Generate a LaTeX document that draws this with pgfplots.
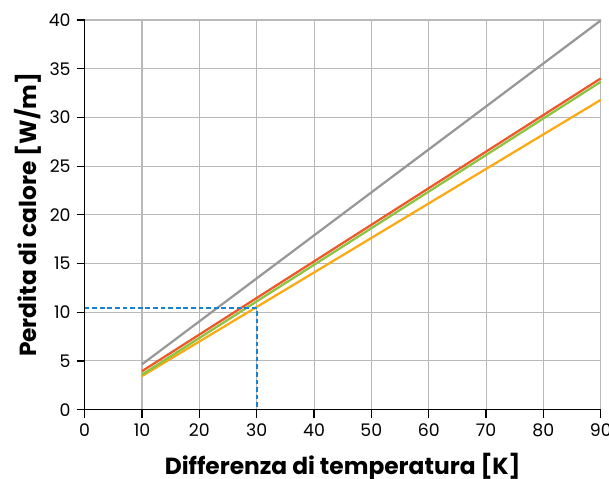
\documentclass[border=0pt]{standalone}
\usepackage{pgfplots}
\pgfplotsset{compat=1.18}
\usepackage{fontspec}
\setmainfont{Poppins}
\definecolor{cgray}{RGB}{152,152,152}
\definecolor{cred}{RGB}{236,88,42}
\definecolor{cgreen}{RGB}{140,196,64}
\definecolor{corange}{RGB}{252,170,20}
\definecolor{cblue}{RGB}{26,128,208}
\definecolor{cgrid}{RGB}{185,185,185}
\begin{document}
\begin{tikzpicture}
\begin{axis}[
  name=ax,
  scale only axis,
  width=387pt, height=292.2pt,
  xmin=0, xmax=90, ymin=0, ymax=40,
  xtick={0,10,...,90}, ytick={0,5,...,40},
  axis x line*=bottom, axis y line*=left,
  axis line style={black, line width=0.9pt},
  tick align=outside,
  major tick length=6pt,
  tick style={black, line width=0.9pt},
  grid=major,
  grid style={cgrid, line width=0.8pt},
  /pgf/number format/assume math mode=true,
  ticklabel style={font=\fontsize{13}{15}\selectfont},
  xticklabel style={yshift=-1pt},
  yticklabel style={xshift=-1pt},
  xlabel={\textbf{Differenza di temperatura [K]}},
  ylabel={\textbf{Perdita di calore [W/m]}},
  label style={font=\fontsize{17.5}{20}\selectfont},
  xlabel style={at={(axis description cs:0.5,-0.146)}, anchor=center},
  ylabel style={at={(axis description cs:-0.11,0.5)}, anchor=center, rotate=0},
  clip=false,
]
\addplot[cgray, line width=1.7pt] coordinates {(10,4.65) (90,39.95)};
\addplot[corange, line width=1.7pt] coordinates {(10,3.45) (90,31.8)};
\addplot[cgreen, line width=1.7pt] coordinates {(10,3.6) (90,33.65)};
\addplot[cred, line width=1.7pt] coordinates {(10,3.95) (90,34.0)};
\addplot[cblue, line width=1.6pt, dash pattern=on 3.5pt off 2.2pt] coordinates {(0,10.4) (30,10.4) (30,0)};
\end{axis}
\pgfresetboundingbox
\path[use as bounding box] ([shift={(-63.5pt,-51.3pt)}]ax.south west) rectangle ([shift={(6.2pt,15pt)}]ax.north east);
\end{tikzpicture}
\end{document}
